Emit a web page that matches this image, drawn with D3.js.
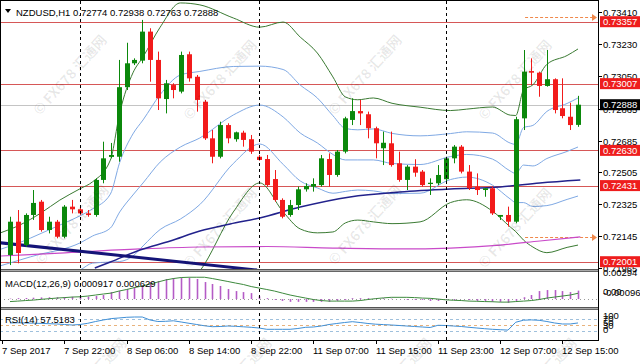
<!DOCTYPE html>
<html>
<head>
<meta charset="utf-8">
<script src="https://cdn.jsdelivr.net/npm/d3@7"></script>
<style>
  body { margin: 0; background: #fff; }
  svg { display: block; font-family: "Liberation Sans", Arial, sans-serif; }
</style>
</head>
<body>
<svg id="chart" width="640" height="364"></svg>
<script>
// NZDUSD H1 bars, 7 Sep 15:00 .. 12 Sep 17:00  [open, high, low, close]
const ohlc = [
  [0.72039,0.72255,0.71982,0.72227],[0.72227,0.72293,0.71992,0.72050],[0.72095,0.72274,0.72086,0.72265],
  [0.72265,0.72406,0.72237,0.72333],[0.72340,0.72350,0.72171,0.72180],[0.72180,0.72255,0.72161,0.72227],
  [0.72227,0.72237,0.72133,0.72142],[0.72142,0.72321,0.72133,0.72312],[0.72312,0.72350,0.72274,0.72297],
  [0.72297,0.72312,0.72265,0.72274],[0.72274,0.72293,0.72255,0.72265],[0.72265,0.72472,0.72255,0.72463],
  [0.72463,0.72679,0.72444,0.72585],[0.72593,0.72672,0.72585,0.72604],[0.72594,0.73141,0.72566,0.72987],
  [0.72987,0.73238,0.72971,0.73122],[0.73122,0.73150,0.73112,0.73141],[0.73137,0.73367,0.73122,0.73301],
  [0.73301,0.73320,0.73018,0.73141],[0.73141,0.73188,0.72858,0.72924],[0.72920,0.73028,0.72839,0.73009],
  [0.72999,0.73009,0.72924,0.72971],[0.72962,0.73188,0.72952,0.73169],[0.73173,0.73188,0.73018,0.73037],
  [0.73046,0.73056,0.72849,0.72915],[0.72905,0.72915,0.72689,0.72698],[0.72698,0.72745,0.72557,0.72594],
  [0.72594,0.72792,0.72585,0.72773],[0.72773,0.72783,0.72670,0.72698],[0.72693,0.72736,0.72679,0.72732],
  [0.72730,0.72741,0.72651,0.72689],[0.72693,0.72717,0.72610,0.72623],[0.72594,0.72604,0.72572,0.72576],
  [0.72581,0.72604,0.72425,0.72434],[0.72468,0.72519,0.72340,0.72350],[0.72350,0.72359,0.72246,0.72255],
  [0.72265,0.72350,0.72255,0.72321],[0.72321,0.72425,0.72293,0.72410],[0.72410,0.72444,0.72397,0.72429],
  [0.72425,0.72472,0.72397,0.72440],[0.72434,0.72604,0.72425,0.72585],[0.72581,0.72613,0.72425,0.72491],
  [0.72491,0.72632,0.72481,0.72623],[0.72623,0.72820,0.72613,0.72811],[0.72802,0.72924,0.72773,0.72852],
  [0.72852,0.72915,0.72773,0.72839],[0.72834,0.72849,0.72698,0.72755],[0.72755,0.72764,0.72585,0.72670],
  [0.72642,0.72736,0.72547,0.72673],[0.72670,0.72736,0.72538,0.72547],[0.72557,0.72623,0.72453,0.72463],
  [0.72463,0.72547,0.72406,0.72538],[0.72538,0.72580,0.72481,0.72504],[0.72510,0.72519,0.72425,0.72434],
  [0.72440,0.72472,0.72378,0.72447],[0.72444,0.72547,0.72434,0.72491],[0.72467,0.72594,0.72453,0.72585],
  [0.72585,0.72660,0.72557,0.72651],[0.72651,0.72660,0.72500,0.72510],[0.72510,0.72547,0.72406,0.72416],
  [0.72425,0.72500,0.72378,0.72406],[0.72406,0.72416,0.72368,0.72416],[0.72416,0.72425,0.72265,0.72274],
  [0.72255,0.72265,0.72237,0.72265],[0.72265,0.72312,0.72199,0.72227],[0.72227,0.72820,0.72218,0.72806],
  [0.72811,0.73197,0.72745,0.73075],[0.73078,0.73150,0.72999,0.73069],[0.73069,0.73075,0.72933,0.72994],
  [0.72994,0.73197,0.72990,0.73032],[0.73032,0.73037,0.72839,0.72858],[0.72868,0.73037,0.72811,0.72824],
  [0.72820,0.72899,0.72745,0.72773],[0.72774,0.72938,0.72763,0.72888]
];

// bollinger bands: bar index, middle line, one deviation
const bbIdx = [-1.3, 1.3, 4, 6.4, 9, 10.6, 12.9, 14.1, 15.8, 17.1, 19.3, 21.9, 24.4, 28.7, 32.1, 35.1, 37.3,
  39.5, 41.5, 43.1, 44.7, 46.7, 49.1, 52.7, 56.6, 58.7, 62, 64.3, 65, 66, 67.2, 69, 71.6, 73];
const bbMid = [0.71977, 0.72011, 0.72045, 0.72067, 0.72107, 0.72146, 0.72191, 0.72282, 0.72378, 0.72446, 0.72564,
  0.72649, 0.72700, 0.72830, 0.72886, 0.72819, 0.72728, 0.72672, 0.72607, 0.72576, 0.72576, 0.72576, 0.72556,
  0.72550, 0.72595, 0.72607, 0.72581, 0.72513, 0.72499, 0.72547, 0.72542, 0.72584, 0.72624, 0.72649];
const bbDev = [0.00093, 0.00099, 0.00116, 0.00141, 0.00153, 0.00153, 0.00192, 0.00280, 0.00345, 0.00356, 0.00381,
  0.00407, 0.00376, 0.00274, 0.00220, 0.00268, 0.00271, 0.00254, 0.00219, 0.00178, 0.00170, 0.00175, 0.00170,
  0.00162, 0.00130, 0.00128, 0.00147, 0.00158, 0.00164, 0.00212, 0.00229, 0.00266, 0.00271, 0.00277];

// slow moving averages
const maIdx = [10.9, 12.9, 16.7, 20.6, 24.4, 28.3, 32.1, 37.3, 43.7, 50.1, 56.6, 63, 68.1, 73.3];
const maVal = [0.71965, 0.71999, 0.72067, 0.72118, 0.72174, 0.72214, 0.72248, 0.72310, 0.72367, 0.72395,
  0.72412, 0.72423, 0.72446, 0.72463];
const ma2Idx = [-1.3, 6.4, 16.7, 24.4, 33, 41.5, 50.1, 56.6, 63, 68.1, 73.3];
const ma2Val = [0.72033, 0.72050, 0.72073, 0.72084, 0.72087, 0.72078, 0.72073, 0.72078, 0.72095, 0.72118, 0.72141];

// hand-drawn trend line and horizontal objects
const trendIdx = [-1.29, 31.75];
const trendVal = [0.72108, 0.71954];
const levels = [0.73357, 0.73007, 0.72630, 0.72431, 0.72001];
const alerts = [0.73381, 0.72138];
const alertFrom = 66.2;
const lastPrice = 0.72888;
const priceTicks = [0.73410, 0.73230, 0.73050, 0.72865, 0.72685, 0.72505, 0.72325, 0.72145, 0.71965];

// MACD(12,26,9): main (histogram) and signal
const macdMain = [0.00005, 0.0001, 0.00012, 0.00015, 0.00018, 0.0002, 0.0002, 0.00022, 0.00025, 0.00025, 0.00026,
  0.00033, 0.00044, 0.00076, 0.00087, 0.00109, 0.00131, 0.00153, 0.00185, 0.00196, 0.00218, 0.00229, 0.00229,
  0.00229, 0.00218, 0.00185, 0.00164, 0.00142, 0.00109, 0.00087, 0.00076, 0.00065, 0.0003, 0.0001, -0.0001,
  -0.0002, -0.0003, -0.0003, -0.0003, -0.0003, -0.0003, -0.0003, -0.0002, -0.0001, 0.0001, 0.0001, 0.0001, 0.0001,
  0.0001, 0.00005, 0, -0.0001, -0.0001, -0.0001, -0.0002, -0.0002, -0.0001, -0.0001, 0, -0.0001, -0.0002, -0.0002,
  -0.0003, -0.0003, -0.0004, -0.0002, 0.0002, 0.00044, 0.00087, 0.00098, 0.00098, 0.00087, 0.00076, 0.000917];
const macdSignal = [-0.00027, -0.00022, -0.00016, -0.00011, -0.00003, 0.00004, 0.00011, 0.00016, 0.00022, 0.00025,
  0.00033, 0.00044, 0.00055, 0.00065, 0.00087, 0.00104, 0.00125, 0.00142, 0.00164, 0.00185, 0.00207, 0.00223,
  0.00234, 0.00237, 0.00237, 0.00237, 0.00223, 0.00207, 0.00191, 0.00174, 0.00158, 0.00136, 0.0012, 0.00104,
  0.00087, 0.00065, 0.00044, 0.00027, 0.00011, -0.00005, -0.00016, -0.00022, -0.00022, -0.00022, -0.00022,
  -0.00016, -0.00005, 0.00005, 0.00013, 0.00019, 0.00019, 0.00019, 0.00016, 0.00011, 0.00008, 0, -0.00008,
  -0.00013, -0.00016, -0.00022, -0.00024, -0.00027, -0.00029, -0.00033, -0.00033, -0.00027, -0.00022, -0.00016,
  -0.00005, 0.00011, 0.00022, 0.00033, 0.00044, 0.000629];

// RSI(14)
const rsi = [57.4, 58, 57.4, 56.7, 56, 55, 54, 52.2, 50.5, 52.2, 56.4, 62.5, 67.7, 72.5, 74.6, 77, 78, 78, 67.7,
  62.5, 63.2, 65, 60.8, 56.4, 52.2, 47.8, 44.7, 45.4, 47, 46, 44.3, 42.6, 40.2, 35.7, 35.7, 35.7, 35.7, 38.5, 42.6,
  43.6, 47, 52.2, 55.7, 59, 61.9, 59, 55.7, 53.3, 51.9, 50.5, 48.8, 47, 45.4, 43.6, 41.9, 49.5, 48.8, 47, 45.4,
  42.6, 40.2, 37.8, 35.7, 34.4, 33, 60, 67, 68, 66.7, 62.5, 57.4, 54, 54, 57.5183];
const rsiLevels = [70, 50, 30];

// time axis
const tickIdx = [-1, 7, 15, 23, 31, 39, 47, 55, 63, 71];
const tickText = ["7 Sep 2017", "7 Sep 22:00", "8 Sep 06:00", "8 Sep 14:00", "8 Sep 22:00", "11 Sep 07:00",
  "11 Sep 15:00", "11 Sep 23:00", "12 Sep 07:00", "12 Sep 15:00"];
const daySeps = [9, 32, 56];

const C = {
  bull: "#0b880b", bear: "#f21b1b", level: "#d65757", levelBox: "#ee1d1d",
  outer: "#3a7a32", inner: "#7fa9e4", ma: "#22228c", ma2: "#c94ac9", trend: "#141478",
  hist: "#b45cc6", signal: "#3d8a3d", rsi: "#3f8fd6", alert: "#f0884a"
};

const R = 598; // right price axis
const MAIN = [1, 269], MACD = [272, 307], RSI = [310, 340];

const svg = d3.select("#chart");
const defs = svg.append("defs");
[["clipMain", MAIN], ["clipMacd", MACD], ["clipRsi", RSI]].forEach(([id, b]) => {
  defs.append("clipPath").attr("id", id).append("rect")
    .attr("x", 1).attr("y", b[0]).attr("width", R - 1).attr("height", b[1] - b[0]);
});

const x = d3.scaleLinear().domain([0, ohlc.length - 1]).range([10, 578]);
const y = d3.scaleLinear().domain([0.72001, 0.73357]).range([261.7, 21.7]);
const ym = d3.scaleLinear().domain([-0.000969, 0.00294]).range([308, 272]);
const yr = d3.scaleLinear().domain([0, 100]).range([339.7, 310.6]);

svg.append("rect").attr("width", 640).attr("height", 364).attr("fill", "#fff");

const main = svg.append("g").attr("clip-path", "url(#clipMain)");

// horizontal levels
main.selectAll(".lvl").data(levels).join("line")
  .attr("x1", 0).attr("x2", R).attr("y1", (d) => Math.round(y(d)) + 0.5).attr("y2", (d) => Math.round(y(d)) + 0.5)
  .attr("stroke", C.level).attr("stroke-width", 1.2);
main.append("line")
  .attr("x1", 0).attr("x2", R).attr("y1", Math.round(y(lastPrice)) + 0.5).attr("y2", Math.round(y(lastPrice)) + 0.5)
  .attr("stroke", "#c4c4c4");

// alert lines with arrows
alerts.forEach((a) => {
  const yy = Math.round(y(a)) + 0.5;
  main.append("line").attr("x1", x(alertFrom)).attr("x2", R - 4).attr("y1", yy).attr("y2", yy)
    .attr("stroke", C.alert).attr("stroke-dasharray", "3,2");
  main.append("path").attr("d", `M${R - 6},${yy - 3.5}L${R - 1},${yy}L${R - 6},${yy + 3.5}Z`).attr("fill", C.alert);
});

// bands
const band = (k) => d3.line().curve(d3.curveMonotoneX)
  .x((d, j) => x(bbIdx[j])).y((d, j) => y(bbMid[j] + k * bbDev[j]));
[[2, C.outer], [-2, C.outer], [1, C.inner], [0, C.inner], [-1, C.inner]].forEach(([k, col]) => {
  main.append("path").datum(bbMid).attr("d", band(k)).attr("fill", "none").attr("stroke", col).attr("stroke-width", 1);
});

const sparse = (idx, val) => d3.line().curve(d3.curveMonotoneX).x((d, j) => x(idx[j])).y((d, j) => y(val[j]))(val);
main.append("path").attr("d", sparse(ma2Idx, ma2Val)).attr("fill", "none").attr("stroke", C.ma2).attr("stroke-width", 1.2);
main.append("path").attr("d", sparse(maIdx, maVal)).attr("fill", "none").attr("stroke", C.ma).attr("stroke-width", 1.5);
main.append("path").attr("d", sparse(trendIdx, trendVal)).attr("fill", "none").attr("stroke", C.trend).attr("stroke-width", 3);

// candles
const cx = (i) => Math.round(x(i));
const col = (d) => (d[3] >= d[0] ? C.bull : C.bear);
main.selectAll(".wick").data(ohlc).join("line")
  .attr("x1", (d, i) => cx(i) + 0.5).attr("x2", (d, i) => cx(i) + 0.5)
  .attr("y1", (d) => y(d[1])).attr("y2", (d) => y(d[2]))
  .attr("stroke", col);
main.selectAll(".body").data(ohlc).join("rect")
  .attr("x", (d, i) => cx(i) - 2).attr("width", 5)
  .attr("y", (d) => y(Math.max(d[0], d[3])))
  .attr("height", (d) => Math.max(1, Math.abs(y(d[0]) - y(d[3]))))
  .attr("fill", col);

// MACD panel
const mp = svg.append("g").attr("clip-path", "url(#clipMacd)");
mp.append("line").attr("x1", 0).attr("x2", R).attr("y1", Math.round(ym(0)) + 0.5).attr("y2", Math.round(ym(0)) + 0.5)
  .attr("stroke", "#9a9a9a").attr("stroke-dasharray", "1,3");
mp.selectAll(".h").data(macdMain).join("line")
  .attr("x1", (d, i) => cx(i) + 0.5).attr("x2", (d, i) => cx(i) + 0.5)
  .attr("y1", ym(0)).attr("y2", (d) => ym(d))
  .attr("stroke", C.hist).attr("stroke-width", 1.6);
mp.append("path").datum(macdSignal)
  .attr("d", d3.line().x((d, i) => x(i)).y((d) => ym(d)))
  .attr("fill", "none").attr("stroke", C.signal).attr("stroke-width", 1);

// RSI panel
const rp = svg.append("g").attr("clip-path", "url(#clipRsi)");
rp.selectAll(".rl").data(rsiLevels).join("line")
  .attr("x1", 0).attr("x2", R).attr("y1", (d) => Math.round(yr(d)) + 0.5).attr("y2", (d) => Math.round(yr(d)) + 0.5)
  .attr("stroke", (d) => (d === 50 ? "#e8b27c" : "#9fc0dc")).attr("stroke-dasharray", "3,3");
rp.append("path").datum(rsi)
  .attr("d", d3.line().x((d, i) => x(i)).y((d) => yr(d)))
  .attr("fill", "none").attr("stroke", C.rsi).attr("stroke-width", 1);

// day separators
svg.selectAll(".sep").data(daySeps).join("line")
  .attr("x1", (d) => cx(d) + 0.5).attr("x2", (d) => cx(d) + 0.5).attr("y1", MAIN[0]).attr("y2", RSI[1])
  .attr("stroke", "#000").attr("stroke-dasharray", "3,3");

// panel separators and frame
[[MAIN[1], MACD[0]], [MACD[1], RSI[0]]].forEach(([a, b]) => {
  svg.append("rect").attr("x", 0).attr("y", a).attr("width", R + 1).attr("height", b - a).attr("fill", "#a9a9a9");
  svg.append("line").attr("x1", 0).attr("x2", R).attr("y1", a + 0.5).attr("y2", a + 0.5).attr("stroke", "#555");
  svg.append("line").attr("x1", 0).attr("x2", R).attr("y1", b - 0.5).attr("y2", b - 0.5).attr("stroke", "#666");
});
svg.append("rect").attr("x", 0.5).attr("y", 0.5).attr("width", R).attr("height", RSI[1])
  .attr("fill", "none").attr("stroke", "#000");

// header texts
svg.append("path").attr("d", "M5,9L11,9L8,13Z").attr("fill", "#000");
svg.append("text").attr("x", 16).attr("y", 15.5).attr("font-size", 9.5).attr("fill", "#000")
  .text("NZDUSD,H1  0.72774 0.72938 0.72763 0.72888".replace("  ", " "));
svg.append("text").attr("x", 5).attr("y", 286.5).attr("font-size", 9.5).attr("fill", "#000")
  .text(`MACD(12,26,9) ${macdMain[macdMain.length - 1].toFixed(6)} ${macdSignal[macdSignal.length - 1].toFixed(6)}`);
svg.append("text").attr("x", 5).attr("y", 322.5).attr("font-size", 9.5).attr("fill", "#000")
  .text(`RSI(14) ${rsi[rsi.length - 1].toFixed(4)}`);

// right price axis
const ax = svg.append("g").attr("font-size", 9.5);
priceTicks.forEach((p) => {
  const yy = Math.round(y(p)) + 0.5;
  ax.append("line").attr("x1", R).attr("x2", R + 4).attr("y1", yy).attr("y2", yy).attr("stroke", "#000");
  ax.append("text").attr("x", 603).attr("y", yy + 3.5).text(p.toFixed(5));
});
const tag = (p, bg) => {
  const yy = y(p);
  ax.append("rect").attr("x", 600).attr("y", yy - 5.5).attr("width", 40).attr("height", 11).attr("fill", bg);
  ax.append("text").attr("x", 603).attr("y", yy + 3.5).attr("fill", "#fff").text(p.toFixed(5));
};
levels.forEach((p) => tag(p, C.levelBox));
tag(lastPrice, "#000");

// sub-window scales
[["0.00294", 275.5], ["0.00", 295], ["-0.000969", 296]].forEach(([t, yy]) =>
  ax.append("text").attr("x", 603).attr("y", yy).text(t));
[["100", 318.5], ["70", 322], ["50", 325.5], ["30", 329], ["0", 333]].forEach(([t, yy]) =>
  ax.append("text").attr("x", 603).attr("y", yy).text(t));

// time axis
const tx = svg.append("g").attr("font-size", 9.5);
tickIdx.forEach((i, k) => {
  const xx = cx(i) + 0.5;
  tx.append("line").attr("x1", xx).attr("x2", xx).attr("y1", RSI[1]).attr("y2", RSI[1] + 4).attr("stroke", "#000");
  tx.append("text").attr("x", xx - 0.5).attr("y", 354).text(tickText[k]);
});

// watermark
const wm = [[70, 75], [220, 80], [365, 75], [515, 80], [72, 225], [220, 228], [365, 225], [515, 228],
  [90, 378], [235, 378], [395, 378], [540, 378]];
svg.append("g").selectAll("text").data(wm).join("text")
  .attr("transform", (d) => `translate(${d[0]},${d[1]}) rotate(-48)`)
  .attr("text-anchor", "middle").attr("dy", 5)
  .attr("font-family", "'Noto Sans CJK SC', 'Noto Sans', sans-serif").attr("font-weight", "bold")
  .attr("font-size", 14).attr("fill", "#000").attr("fill-opacity", 0.09)
  .text("© FX678 汇通网");
</script>
</body>
</html>
